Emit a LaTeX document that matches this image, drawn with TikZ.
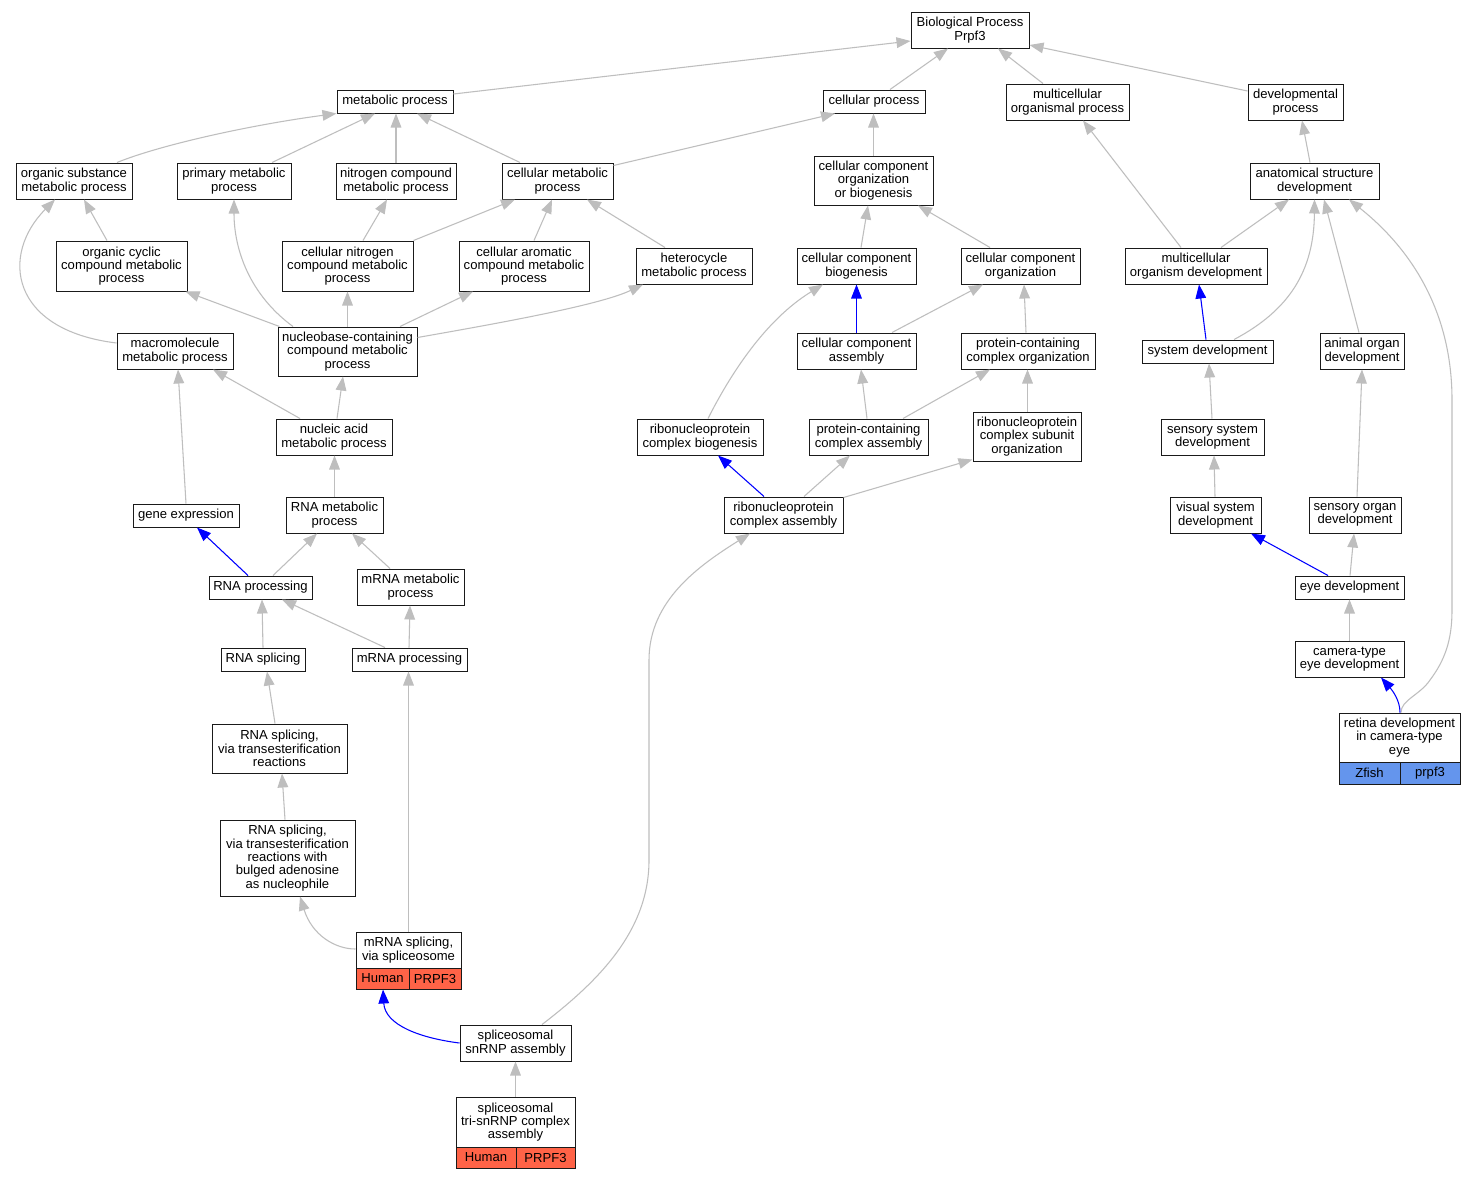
\documentclass[tikz,border=0pt]{standalone}
\usepackage{fontspec}
\setmainfont{Liberation Sans}
\usetikzlibrary{arrows.meta,calc}
\definecolor{eg}{HTML}{BEBEBE}
\definecolor{eb}{HTML}{0000FF}
\definecolor{hum}{HTML}{FF6347}
\definecolor{zf}{HTML}{6495ED}
\definecolor{bd}{HTML}{1A1A1A}
\begin{document}
\begin{tikzpicture}[x=0.75pt,y=-0.75pt,
  font=\fontsize{9.8}{10}\selectfont,
  nb/.style 2 args={draw=bd, line width=0.75pt, fill=white, inner sep=0pt, align=center,
     minimum width=#1*0.75pt, minimum height=#2*0.75pt},
  cellz/.style={draw=bd, line width=0.75pt, fill=zf, inner sep=0pt,
     minimum width=#1*0.75pt, minimum height=22*0.75pt},
  cellh/.style={draw=bd, line width=0.75pt, fill=hum, inner sep=0pt,
     minimum width=#1*0.75pt, minimum height=21*0.75pt},
  ge/.style={draw=eg, line width=0.8pt, -{Triangle[length=10.5pt,width=8pt]}},
  eb/.style={draw=eb, line width=0.8pt, -{Triangle[length=10.5pt,width=8pt]}}]
\fill[white] (0,0) rectangle (1476,1179);
\useasboundingbox (0,0) rectangle (1476,1179);

\node[nb={118}{36}] (bp) at (970,30) {Biological Process\\Prpf3};
\node[nb={116}{23}] (met) at (395,101.5) {metabolic process};
\node[nb={102}{23}] (cellp) at (874,101.5) {cellular process};
\node[nb={123}{36}] (mcop) at (1067.5,102) {multicellular\\organismal process};
\node[nb={95}{36}] (devp) at (1295.5,102) {developmental\\process};
\node[nb={116}{36}] (osmp) at (74,181) {organic substance\\metabolic process};
\node[nb={114}{36}] (pmp) at (234,181) {primary metabolic\\process};
\node[nb={120}{36}] (ncmp) at (396,181) {nitrogen compound\\metabolic process};
\node[nb={111}{36}] (cmp) at (557.5,181) {cellular metabolic\\process};
\node[nb={119}{49}] (ccob) at (873.5,180.5) {cellular component\\organization\\or biogenesis};
\node[nb={129}{36}] (asd) at (1314.5,181) {anatomical structure\\development};
\node[nb={131}{50}] (occmp) at (121.5,266) {organic cyclic\\compound metabolic\\process};
\node[nb={131}{50}] (cncmp) at (347.5,266) {cellular nitrogen\\compound metabolic\\process};
\node[nb={130}{50}] (cacmp) at (524,266) {cellular aromatic\\compound metabolic\\process};
\node[nb={116}{36}] (hmp) at (694,266) {heterocycle\\metabolic process};
\node[nb={119}{36}] (ccb) at (856.5,266) {cellular component\\biogenesis};
\node[nb={119}{36}] (cco) at (1020.5,266) {cellular component\\organization};
\node[nb={142}{36}] (mod) at (1196,266) {multicellular\\organism development};
\node[nb={116}{36}] (mmp) at (175,351) {macromolecule\\metabolic process};
\node[nb={139}{49}] (nbmp) at (347.5,351.5) {nucleobase-containing\\compound metabolic\\process};
\node[nb={119}{36}] (cca) at (856.5,351) {cellular component\\assembly};
\node[nb={134}{36}] (pcco) at (1028,351) {protein-containing\\complex organization};
\node[nb={131}{23}] (sd) at (1207.5,351.5) {system development};
\node[nb={84}{36}] (aod) at (1362,351) {animal organ\\development};
\node[nb={116}{36}] (namp) at (334,437) {nucleic acid\\metabolic process};
\node[nb={126}{36}] (rnpb) at (700,437) {ribonucleoprotein\\complex biogenesis};
\node[nb={119}{36}] (pcca) at (868.5,437) {protein-containing\\complex assembly};
\node[nb={108}{49}] (rnpso) at (1027,436.5) {ribonucleoprotein\\complex subunit\\organization};
\node[nb={103}{36}] (ssd) at (1212.5,437) {sensory system\\development};
\node[nb={106}{23}] (gexp) at (186,515.5) {gene expression};
\node[nb={97}{36}] (rmp) at (334.5,515) {RNA metabolic\\process};
\node[nb={119}{36}] (rnpa) at (783.5,515) {ribonucleoprotein\\complex assembly};
\node[nb={91}{36}] (vsd) at (1215.5,515) {visual system\\development};
\node[nb={92}{36}] (sod) at (1355,515) {sensory organ\\development};
\node[nb={103}{23}] (rp) at (260.5,587.5) {RNA processing};
\node[nb={107}{36}] (mrmp) at (410.5,587) {mRNA metabolic\\process};
\node[nb={109}{23}] (eyed) at (1349.5,587.5) {eye development};
\node[nb={84}{23}] (rs) at (263,659.5) {RNA splicing};
\node[nb={115}{23}] (mrp) at (409.5,659.5) {mRNA processing};
\node[nb={109}{36}] (ctd) at (1349.5,659) {camera-type\\eye development};
\node[nb={135}{49}] (rst) at (279.5,748.5) {RNA splicing,\\via transesterification\\reactions};
\node[nb={121}{49}] (ret) at (1399.5,737.5) {retina development\\in camera-type\\eye};
\node[cellz={61}] (retA) at (1369.5,773) {Zfish};
\node[cellz={60}] (retB) at (1430,773) {prpf3};
\node[nb={135}{76}] (bul) at (287.5,858) {RNA splicing,\\via transesterification\\reactions with\\bulged adenosine\\as nucleophile};
\node[nb={105}{36}] (mss) at (408.5,950) {mRNA splicing,\\via spliceosome};
\node[cellh={53}] (mssA) at (382.5,978.5) {Human};
\node[cellh={52}] (mssB) at (435,978.5) {PRPF3};
\node[nb={111}{36}] (snrnp) at (515.5,1043) {spliceosomal\\snRNP assembly};
\node[nb={119}{50}] (tri) at (515.5,1122) {spliceosomal\\tri-snRNP complex\\assembly};
\node[cellh={60}] (triA) at (486,1157.5) {Human};
\node[cellh={59}] (triB) at (545.5,1157.5) {PRPF3};

\draw[ge] ($(met.east)+(0,-7.5)$) -- ($(bp.west)+(0,11)$);
\draw[ge] ($(cellp.north)+(16,0)$) -- ($(bp.south)+(-22,0)$);
\draw[ge] ($(mcop.north)+(-24.5,0)$) -- ($(bp.south)+(28,0)$);
\draw[ge] ($(devp.west)+(0,-11)$) -- ($(bp.east)+(0,15)$);
\draw[ge] ($(osmp.north)+(43,0)$) .. controls (160,145) and (250,125) .. (met.south west);
\draw[ge] ($(pmp.north)+(38,0)$) -- ($(met.south)+(-20,0)$);
\draw[ge] (ncmp.north) -- (ncmp.north |- met.south);
\draw[ge] ($(cmp.north)+(-37.5,0)$) -- ($(met.south)+(22,0)$);
\draw[ge] ($(cmp.north east)+(0,3)$) -- ($(cellp.south)+(-39,0)$);
\draw[ge] (ccob.north) -- (ccob.north |- cellp.south);
\draw[ge] ($(mod.north)+(-15,0)$) -- ($(mcop.south)+(15.5,0)$);
\draw[ge] ($(asd.north)+(-4.5,0)$) -- ($(devp.south)+(6.5,0)$);
\draw[ge] ($(occmp.north)+(-14.5,0)$) -- ($(osmp.south)+(10,0)$);
\draw[ge] ($(cncmp.north)+(15.5,0)$) -- ($(ncmp.south)+(-9,0)$);
\draw[ge] (cncmp.north east) -- ($(cmp.south)+(-42.5,0)$);
\draw[ge] ($(cacmp.north)+(10,0)$) -- ($(cmp.south)+(-5.5,0)$);
\draw[ge] ($(hmp.north)+(-29,0)$) -- ($(cmp.south)+(29.5,0)$);
\draw[ge] ($(ccb.north)+(4.5,0)$) -- ($(ccob.south)+(-5.5,0)$);
\draw[ge] ($(cco.north)+(-30.5,0)$) -- ($(ccob.south)+(44.5,0)$);
\draw[ge] ($(mod.north)+(25,0)$) -- ($(asd.south)+(-25.5,0)$);
\draw[ge] ($(mmp.west)+(0,-8)$) .. controls (10,330) and (0,255) .. ($(osmp.south)+(-19,0)$);
\draw[ge] ($(nbmp.north)+(-54.5,0)$) .. controls (250,295) and (234,250) .. (pmp.south);
\draw[ge] ($(nbmp.north west)+(2,0)$) -- ($(occmp.south east)+(-2,0)$);
\draw[ge] (nbmp.north) -- (nbmp.north |- cncmp.south);
\draw[ge] ($(nbmp.north)+(52.5,0)$) -- ($(cacmp.south)+(-51,0)$);
\draw[ge] ($(nbmp.north east)+(0,11)$) .. controls (500,323) and (600,305) .. ($(hmp.south)+(-51,0)$);
\draw[eb] (cca.north) -- (cca.north |- ccb.south);
\draw[ge] ($(cca.north)+(35.5,0)$) -- ($(cco.south)+(-37.5,0)$);
\draw[ge] ($(pcco.north)+(-2,0)$) -- ($(cco.south)+(3.5,0)$);
\draw[eb] ($(sd.north)+(-1.5,0)$) -- ($(mod.south)+(3,0)$);
\draw[ge] ($(sd.north)+(26.5,0)$) .. controls (1290,310) and (1314,270) .. (asd.south);
\draw[ge] ($(aod.north)+(-3,0)$) -- ($(asd.south)+(9.5,0)$);
\draw[ge] ($(ret.north)+(1.5,0)$) .. controls (1401,700) and (1420,695) .. (1430,680)
   .. controls (1445,660) and (1452,640) .. (1452,610) -- (1452,400)
   .. controls (1452,300) and (1400,240) .. ($(asd.south)+(34.5,0)$);
\draw[eb] ($(ret.north)+(0.5,0)$) .. controls (1400,700) and (1392,690) .. ($(ctd.south)+(31.5,0)$);
\draw[ge] ($(namp.north)+(-34,0)$) -- ($(mmp.south)+(38,0)$);
\draw[ge] ($(namp.north)+(3,0)$) -- ($(nbmp.south)+(-4.5,0)$);
\draw[ge] ($(rnpb.north)+(8,0)$) .. controls (730,375) and (765,320) .. ($(ccb.south)+(-33.5,0)$);
\draw[ge] ($(pcca.north)+(-1.5,0)$) -- ($(cca.south)+(4.5,0)$);
\draw[ge] ($(pcca.north)+(34.5,0)$) -- ($(pcco.south)+(-38,0)$);
\draw[ge] ($(rnpso.north)+(0.5,0)$) -- ($(rnpso.north |- pcco.south)+(0.5,0)$);
\draw[ge] ($(ssd.north)+(-0.5,0)$) -- ($(sd.south)+(1.5,0)$);
\draw[ge] (gexp.north) -- ($(mmp.south)+(3,0)$);
\draw[ge] (rmp.north) -- (rmp.north |- namp.south);
\draw[eb] ($(rnpa.north)+(-19.5,0)$) -- ($(rnpb.south)+(18,0)$);
\draw[ge] ($(rnpa.north)+(20.5,0)$) -- ($(pcca.south)+(-18.5,0)$);
\draw[ge] ($(rnpa.north east)+(0,1)$) -- ($(rnpso.south west)+(0,-2)$);
\draw[ge] ($(vsd.north)+(-0.5,0)$) -- ($(ssd.south)+(1.5,0)$);
\draw[ge] ($(sod.north)+(2,0)$) -- (aod.south);
\draw[eb] ($(rp.north)+(-12.5,0)$) -- ($(gexp.south)+(11,0)$);
\draw[ge] ($(rp.north)+(12.5,0)$) -- ($(rmp.south)+(-17.5,0)$);
\draw[ge] ($(mrmp.north)+(-20.5,0)$) -- ($(rmp.south)+(17.5,0)$);
\draw[eb] ($(eyed.north)+(-21.5,0)$) -- ($(vsd.south)+(35.5,0)$);
\draw[ge] ($(eyed.north)+(0.5,0)$) -- ($(sod.south)+(-1,0)$);
\draw[ge] (rs.north) -- ($(rp.south)+(1.5,0)$);
\draw[ge] ($(mrp.north)+(-24.5,0)$) -- ($(rp.south)+(21.5,0)$);
\draw[ge] ($(mrp.north)+(-0.5,0)$) -- ($(mrmp.south)+(-0.5,0)$);
\draw[ge] (ctd.north) -- (ctd.north |- eyed.south);
\draw[ge] ($(rst.north)+(-4.5,0)$) -- ($(rs.south)+(4,0)$);
\draw[ge] ($(bul.north)+(-2.5,0)$) -- ($(rst.south)+(2.5,0)$);
\draw[ge] ($(mss.west)+(0,-1)$) .. controls (335,949) and (312,935) .. ($(bul.south)+(12.5,0)$);
\draw[ge] (mss.north) -- (mss.north |- mrp.south);
\draw[eb] (snrnp.west) .. controls (420,1038) and (385,1025) .. ($(mssA.south)+(0.5,0)$);
\draw[ge] ($(snrnp.north)+(26.5,0)$) .. controls (600,980) and (649,930) .. (649,860) -- (649,660)
   .. controls (649,600) and (700,565) .. ($(rnpa.south)+(-33.5,0)$);
\draw[ge] (tri.north) -- (tri.north |- snrnp.south);
\end{tikzpicture}
\end{document}
